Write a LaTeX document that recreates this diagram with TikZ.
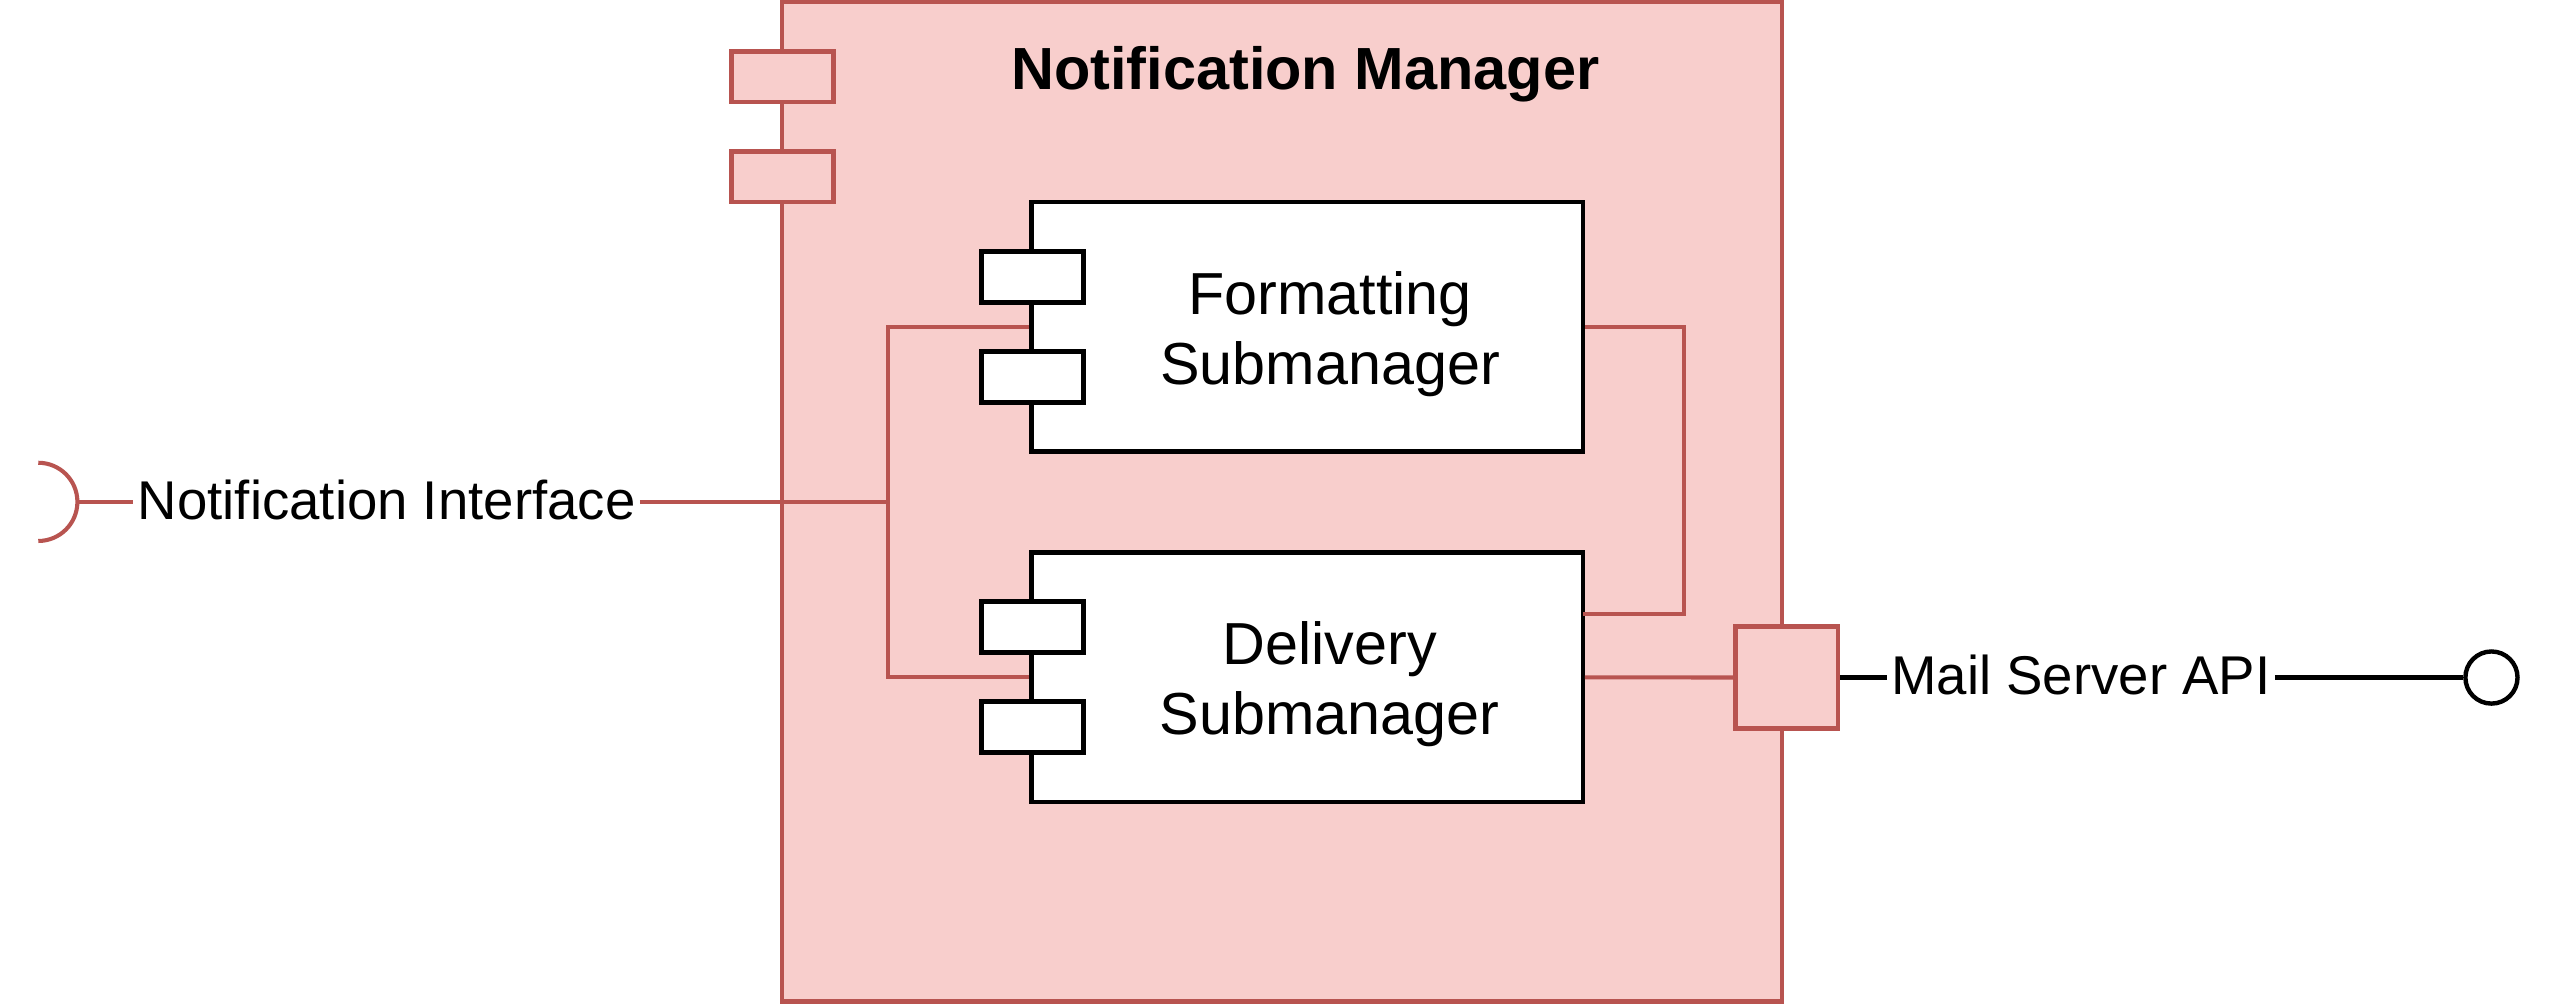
\documentclass[tikz,border=0pt]{standalone}
\usepackage{fontspec}
\setmainfont{Liberation Sans}
\definecolor{rstroke}{HTML}{B85450}
\definecolor{rfill}{HTML}{F8CECC}
\begin{document}
\begin{tikzpicture}[x=1pt,y=-1pt,
  mgrbox/.style={draw=rstroke, fill=rfill, line width=2.8pt, inner sep=0pt},
  compbox/.style={draw=black, fill=white, line width=2.7pt, inner sep=0pt, minimum width=338.3pt, minimum height=153pt},
  portw/.style={draw=black, fill=white, line width=2.7pt, inner sep=0pt, minimum width=62.6pt, minimum height=31.3pt},
  portr/.style={draw=rstroke, fill=rfill, line width=2.7pt, inner sep=0pt, minimum width=62.4pt, minimum height=31pt},
  conn/.style={draw=rstroke, line width=2.5pt},
  bconn/.style={draw=black, line width=2.5pt},
  inlbl/.style={align=center, inner sep=0pt, font=\fontsize{36.4}{42.6}\selectfont},
  outlbl/.style={inner xsep=2.5pt, inner ysep=0pt, font=\fontsize{33.5}{40}\selectfont},
  titlelbl/.style={inner sep=0pt, font=\bfseries\fontsize{36.5}{43}\selectfont}]

\useasboundingbox (0,0) rectangle (1568,617);

\node[mgrbox, minimum width=613.5pt, minimum height=613.5pt] (mgr) at (786.75,307.95) {};
\node[titlelbl, anchor=base] (title) at (801,55.2) {Notification Manager};
\node[portr] (op1) at (480.2,47) {};
\node[portr] (op2) at (480.2,108.6) {};

\node[compbox] (fmt) at (802.15,200.6) {};
\node[compbox] (del) at (802.15,415.65) {};
\node[portw] (fp1) at (633.7,170) {};
\node[portw] (fp2) at (633.7,231.4) {};
\node[portw] (dp1) at (633.7,384.9) {};
\node[portw] (dp2) at (633.7,446.2) {};
\node[inlbl] (fmtlbl) at (816.3,205.2) {Formatting\\Submanager};
\node[inlbl] (dellbl) at (816,419.9) {Delivery\\Submanager};

\node[portr, minimum width=63pt, minimum height=62.4pt] (mport) at (1096.5,415.8) {};
\node[draw=black, line width=2.7pt, circle, minimum size=32pt, inner sep=0pt] (lolli) at (1529,415.8) {};
\node[outlbl, anchor=base] (mslbl) at (1277,426.5) {Mail Server API};
\node[outlbl, anchor=base] (nilbl) at (237.3,319) {Notification Interface};

\coordinate (sock) at (47.5,308);
\coordinate (j1) at (545,308);
\coordinate (dr) at (971.3,377);

\draw[conn] (sock) -- (nilbl.west |- sock);
\draw[conn] (nilbl.east |- sock) -- (j1);
\draw[conn] (fmt.west) -| (j1) |- (del.west);
\draw[conn] (fmt.east) -- ++(60.7,0) |- (dr);
\draw[conn] (del.east) -- (mport.west);
\draw[bconn] (mport.east) -- (mslbl.west |- mport.east);
\draw[bconn] (mslbl.east |- mport.east) -- (lolli.west);
\draw[conn] (sock) ++(-24,-24) arc[start angle=90, end angle=-90, radius=24pt];
\end{tikzpicture}
\end{document}
